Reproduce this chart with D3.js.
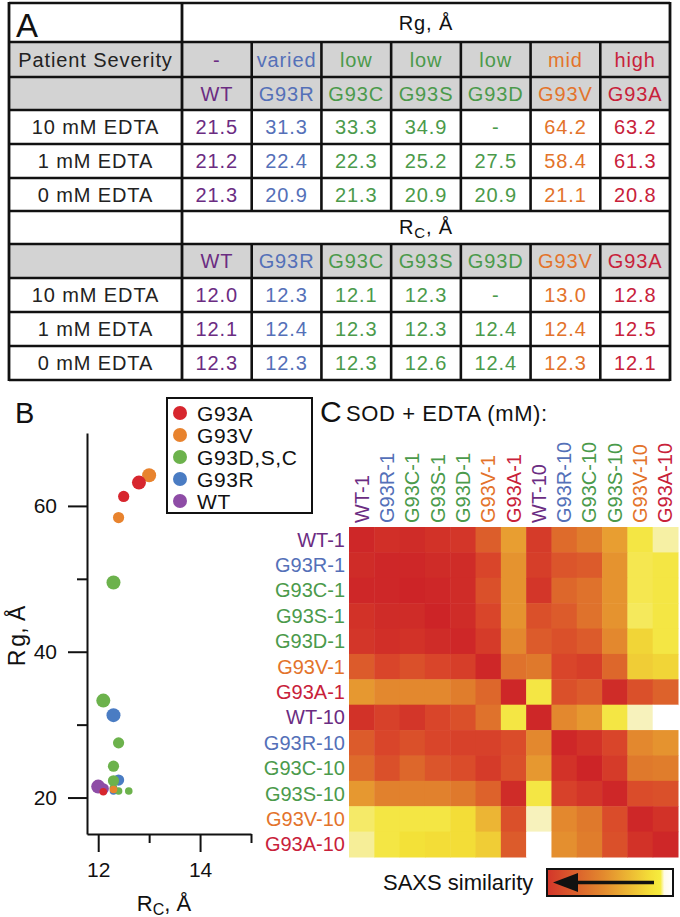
<!DOCTYPE html>
<html><head><meta charset="utf-8">
<script src="https://cdn.jsdelivr.net/npm/d3@7/dist/d3.min.js"></script>
<style>body{margin:0;background:#fff}svg{display:block;font-family:"Liberation Sans",Arial,Helvetica,sans-serif}</style>
</head><body><svg id="c" width="680" height="917"></svg>
<script>
// ---------- DATA ----------
const mutants = ["WT","G93R","G93C","G93S","G93D","G93V","G93A"];
const severity = ["-","varied","low","low","low","mid","high"];
const conditions = ["10 mM EDTA","1 mM EDTA","0 mM EDTA"];
const rg10 = ["21.5","31.3","33.3","34.9","-","64.2","63.2"];
const rg1  = ["21.2","22.4","22.3","25.2","27.5","58.4","61.3"];
const rg0  = ["21.3","20.9","21.3","20.9","20.9","21.1","20.8"];
const rc10 = ["12.0","12.3","12.1","12.3","-","13.0","12.8"];
const rc1  = ["12.1","12.4","12.3","12.3","12.4","12.4","12.5"];
const rc0  = ["12.3","12.3","12.3","12.6","12.4","12.3","12.1"];
const mutantColor = {WT:"#6b2c82",G93R:"#5470b8",G93C:"#4b9a4b",G93S:"#4b9a4b",G93D:"#4b9a4b",G93V:"#e3732b",G93A:"#c8213a"};

// scatter (panel B) points: group, EDTA mM, Rc, Rg
const scGroup = ["WT","WT","WT","G93R","G93R","G93R","G93C","G93S","G93C","G93S","G93D","G93C","G93S","G93D","G93V","G93V","G93V","G93A","G93A","G93A"];
const scEdta  = [10,1,0,10,1,0,10,10,1,1,1,0,0,0,10,1,0,10,1,0];
const scRc    = [12.0,12.1,12.3,12.3,12.4,12.3,12.1,12.3,12.3,12.3,12.4,12.3,12.6,12.4,13.0,12.4,12.3,12.8,12.5,12.1];
const scRg    = [21.5,21.2,21.3,31.3,22.4,20.9,33.3,49.5,22.3,24.3,27.5,21.3,20.9,20.9,64.2,58.4,21.1,63.2,61.3,20.8];
const legendLabels = ["G93A","G93V","G93D,S,C","G93R","WT"];
const legendKeys = ["G93A","G93V","G","G93R","WT"];
const groupColor = {G93A:"#d7262e",G93V:"#e8832e",G:"#6cb24c",G93C:"#6cb24c",G93S:"#6cb24c",G93D:"#6cb24c",G93R:"#4a7cc3",WT:"#8e4ca6"};
const yMajor = [20,40,60], yMinor = [30,50];
const xMajor = [12,14], xMinor = [13,15];

// heatmap (panel C)
const hmLabels = ["WT-1","G93R-1","G93C-1","G93S-1","G93D-1","G93V-1","G93A-1","WT-10","G93R-10","G93C-10","G93S-10","G93V-10","G93A-10"];
const hmValues = [
 [0.05,0.10,0.08,0.12,0.15,0.36,0.65,0.18,0.42,0.50,0.65,0.85,0.93],
 [0.08,0.05,0.05,0.08,0.08,0.25,0.60,0.20,0.32,0.35,0.60,0.86,0.85],
 [0.05,0.05,0.03,0.05,0.08,0.30,0.60,0.15,0.40,0.45,0.60,0.86,0.85],
 [0.12,0.08,0.08,0.03,0.08,0.25,0.60,0.30,0.35,0.45,0.60,0.87,0.85],
 [0.15,0.10,0.12,0.08,0.05,0.18,0.55,0.35,0.30,0.35,0.55,0.80,0.85],
 [0.35,0.25,0.30,0.25,0.20,0.05,0.45,0.48,0.25,0.20,0.40,0.78,0.80],
 [0.62,0.55,0.55,0.55,0.50,0.40,0.05,0.85,0.30,0.35,0.08,0.30,0.38],
 [0.12,0.22,0.15,0.25,0.30,0.45,0.85,0.05,0.55,0.62,0.85,0.95,1.00],
 [0.35,0.25,0.30,0.25,0.22,0.22,0.28,0.55,0.05,0.12,0.25,0.55,0.60],
 [0.42,0.30,0.40,0.32,0.28,0.18,0.30,0.62,0.12,0.03,0.18,0.48,0.50],
 [0.62,0.52,0.52,0.52,0.48,0.38,0.08,0.85,0.22,0.15,0.05,0.28,0.30],
 [0.88,0.85,0.85,0.85,0.82,0.72,0.30,0.95,0.55,0.48,0.28,0.05,0.12],
 [0.92,0.85,0.83,0.82,0.82,0.78,0.35,1.00,0.58,0.50,0.30,0.12,0.05]
];
const hmLabelColor = l => mutantColor[l.split("-")[0]];

// ---------- DRAW ----------
const svg = d3.select("#c");
const FONT = "Liberation Sans, Arial, Helvetica, sans-serif";

// ===== Panel A: table =====
const T = {x0:9, xL:182, x1:670, y0:3, y1:380};
const colX = d3.scaleBand().domain(mutants).range([T.xL, T.x1]);
const rowEdges = [3,42,77,110,144,178,211,244,278,312,346,380];
const rowTop = i => rowEdges[i], rowMid = i => (rowEdges[i]+rowEdges[i+1])/2;
const gA = svg.append("g");
const grayRows = [1,2,7];
gA.selectAll("rect.gray").data(grayRows).join("rect")
  .attr("x",T.x0).attr("y",d=>rowTop(d)).attr("width",T.x1-T.x0)
  .attr("height",d=>rowEdges[d+1]-rowEdges[d]).attr("fill","#d3d3d3");
const LW = 2.6;
gA.selectAll("line.h").data(rowEdges).join("line")
  .attr("x1",T.x0).attr("x2",T.x1).attr("y1",d=>d).attr("y2",d=>d)
  .attr("stroke","#111").attr("stroke-width",LW);
[T.x0,T.xL,T.x1].forEach(xx=>gA.append("line").attr("x1",xx).attr("x2",xx).attr("y1",T.y0-1).attr("y2",T.y1+1).attr("stroke","#111").attr("stroke-width",2.8));
const dataRowsForV = [1,2,3,4,5,7,8,9,10];
mutants.slice(1).forEach(m=>{
  dataRowsForV.forEach(r=>{
    gA.append("line").attr("x1",colX(m)).attr("x2",colX(m)).attr("y1",rowTop(r)).attr("y2",rowEdges[r+1])
      .attr("stroke","#111").attr("stroke-width",LW);
  });
});
const fs = 20;
const cellText = (x,y,t,c) => gA.append("text").attr("x",x).attr("y",y+7).attr("text-anchor","middle")
  .attr("font-size",fs).attr("letter-spacing",0.9).attr("fill",c).text(t);
gA.append("text").attr("x",16).attr("y",37).attr("font-size",33).attr("fill","#111").text("A");
const hdr1 = gA.append("text").attr("x",(T.xL+T.x1)/2).attr("y",rowMid(0)+7).attr("text-anchor","middle").attr("font-size",fs).attr("letter-spacing",0.9).attr("fill","#111");
hdr1.append("tspan").text("R");
hdr1.append("tspan").text("g, Å");
const hdr2 = gA.append("text").attr("x",(T.xL+T.x1)/2).attr("y",rowMid(6)+6).attr("text-anchor","middle").attr("font-size",fs).attr("letter-spacing",0.9).attr("fill","#111");
hdr2.append("tspan").text("R");
hdr2.append("tspan").attr("font-size",15).attr("dy",4).text("C");
hdr2.append("tspan").attr("dy",-4).text(", Å");
cellText((T.x0+T.xL)/2, rowMid(1), "Patient Severity", "#222");
mutants.forEach((m,i)=>{
  const cx = colX(m)+colX.bandwidth()/2;
  cellText(cx, rowMid(1), severity[i], mutantColor[m]);
  cellText(cx, rowMid(2), m, mutantColor[m]);
  cellText(cx, rowMid(7), m, mutantColor[m]);
  [rg10,rg1,rg0].forEach((arr,k)=>cellText(cx,rowMid(3+k),arr[i],mutantColor[m]));
  [rc10,rc1,rc0].forEach((arr,k)=>cellText(cx,rowMid(8+k),arr[i],mutantColor[m]));
});
conditions.forEach((c,k)=>{
  cellText((T.x0+T.xL)/2, rowMid(3+k), c, "#222");
  cellText((T.x0+T.xL)/2, rowMid(8+k), c, "#222");
});

// ===== Panel B: scatter =====
const gB = svg.append("g");
gB.append("text").attr("x",15).attr("y",423).attr("font-size",29).attr("fill","#111").text("B");
const x = d3.scaleLinear().domain([11.78,15]).range([87,251]);
const y = d3.scaleLinear().domain([15,70]).range([834,433]);
const axStyle = g => { g.selectAll("path,line").attr("stroke","#111").attr("stroke-width",2); g.selectAll("text").attr("font-size",21).attr("font-family",FONT).attr("fill","#111"); };
gB.append("g").attr("transform","translate(87,0)").call(d3.axisLeft(y).tickValues(yMajor).tickSize(19).tickSizeOuter(0).tickPadding(11).tickFormat(d3.format("d"))).call(axStyle);
gB.append("g").attr("transform","translate(87,0)").call(d3.axisLeft(y).tickValues(yMinor).tickSize(10).tickSizeOuter(0).tickFormat("")).call(axStyle).select(".domain").remove();
gB.append("g").attr("transform","translate(0,834)").call(d3.axisBottom(x).tickValues(xMajor).tickSize(18).tickSizeOuter(0).tickPadding(10).tickFormat(d3.format("d"))).call(axStyle);
gB.append("g").attr("transform","translate(0,834)").call(d3.axisBottom(x).tickValues(xMinor).tickSize(9).tickSizeOuter(0).tickFormat("")).call(axStyle).select(".domain").remove();
const xt = gB.append("text").attr("x",164).attr("y",911).attr("text-anchor","middle").attr("font-size",22).attr("fill","#111");
xt.append("tspan").text("R"); xt.append("tspan").attr("font-size",16).attr("dy",4).text("C"); xt.append("tspan").attr("dy",-4).text(", Å");
const yt = gB.append("text").attr("transform","translate(25,636) rotate(-90)").attr("text-anchor","middle").attr("font-size",23).attr("fill","#111");
yt.append("tspan").text("R"); yt.append("tspan").attr("dx",3).text("g, Å");
const order = ["WT","G93R","G93C","G93S","G93D","G93V","G93A"];
const pts = scGroup.map((g,i)=>({g,e:scEdta[i],rc:scRc[i],rg:scRg[i]}))
  .sort((a,b)=>order.indexOf(a.g)-order.indexOf(b.g) || b.e-a.e);
const rSize = e => e===10?7:(e===1?5.6:3.8);
gB.selectAll("circle.pt").data(pts).join("circle")
  .attr("cx",d=>x(d.rc)).attr("cy",d=>y(d.rg)).attr("r",d=>rSize(d.e)).attr("fill",d=>groupColor[d.g]);
const lg = gB.append("g");
lg.append("rect").attr("x",167).attr("y",398).attr("width",145).attr("height",115).attr("fill","#fff").attr("stroke","#111").attr("stroke-width",2);
legendLabels.forEach((l,i)=>{
  lg.append("circle").attr("cx",180).attr("cy",413+i*22).attr("r",7).attr("fill",groupColor[legendKeys[i]]);
  lg.append("text").attr("x",197).attr("y",413+i*22+7.5).attr("font-size",21).attr("letter-spacing",0.6).attr("fill","#111").text(l);
});

// ===== Panel C: heatmap =====
const gC = svg.append("g");
gC.append("text").attr("x",320).attr("y",422).attr("font-size",30).attr("fill","#111").text("C");
gC.append("text").attr("x",346).attr("y",421).attr("font-size",22).attr("letter-spacing",0.6).attr("fill","#111").text("SOD + EDTA (mM):");
const hx = d3.scaleBand().domain(hmLabels).range([349,678]);
const hy = d3.scaleBand().domain(hmLabels).range([527,857]);
const col = d3.scaleLinear().domain([0,0.25,0.5,0.68,0.84,0.95,1])
  .range(["#cb2027","#d9452a","#e07d2c","#e9a532","#f4e538","#f7f2bc","#ffffff"]).clamp(true);
const cells = [];
hmValues.forEach((row,i)=>row.forEach((v,j)=>cells.push({r:hmLabels[i],c:hmLabels[j],v})));
gC.selectAll("rect.cell").data(cells).join("rect")
  .attr("x",d=>hx(d.c)).attr("y",d=>hy(d.r)).attr("width",hx.bandwidth()+0.5).attr("height",hy.bandwidth()+0.5)
  .attr("fill",d=>col(d.v));
gC.selectAll("text.rl").data(hmLabels).join("text")
  .attr("x",345).attr("y",d=>hy(d)+hy.bandwidth()/2+7).attr("text-anchor","end").attr("font-size",20)
  .attr("fill",hmLabelColor).text(d=>d);
gC.selectAll("text.cl").data(hmLabels).join("text")
  .attr("transform",d=>`translate(${hx(d)+hx.bandwidth()/2+7},523) rotate(-90)`).attr("font-size",20)
  .attr("fill",hmLabelColor).text(d=>d);
const defs = svg.append("defs");
const grad = defs.append("linearGradient").attr("id","gb");
[[0,"#d3352a"],[0.45,"#e38a2e"],[0.82,"#f4df38"],[0.9,"#f6ec3e"],[0.93,"#fffbe8"],[1,"#ffffff"]]
  .forEach(([o,c])=>grad.append("stop").attr("offset",o).attr("stop-color",c));
gC.append("text").attr("x",383).attr("y",890).attr("font-size",22).attr("fill","#111").text("SAXS similarity");
gC.append("rect").attr("x",547).attr("y",869).attr("width",126).attr("height",27).attr("fill","url(#gb)").attr("stroke","#111").attr("stroke-width",2);
gC.append("line").attr("x1",570).attr("x2",654).attr("y1",882.5).attr("y2",882.5).attr("stroke","#111").attr("stroke-width",3.5);
gC.append("path").attr("d","M553,882.5 L578,873 L578,892 Z").attr("fill","#111");
</script></body></html>
